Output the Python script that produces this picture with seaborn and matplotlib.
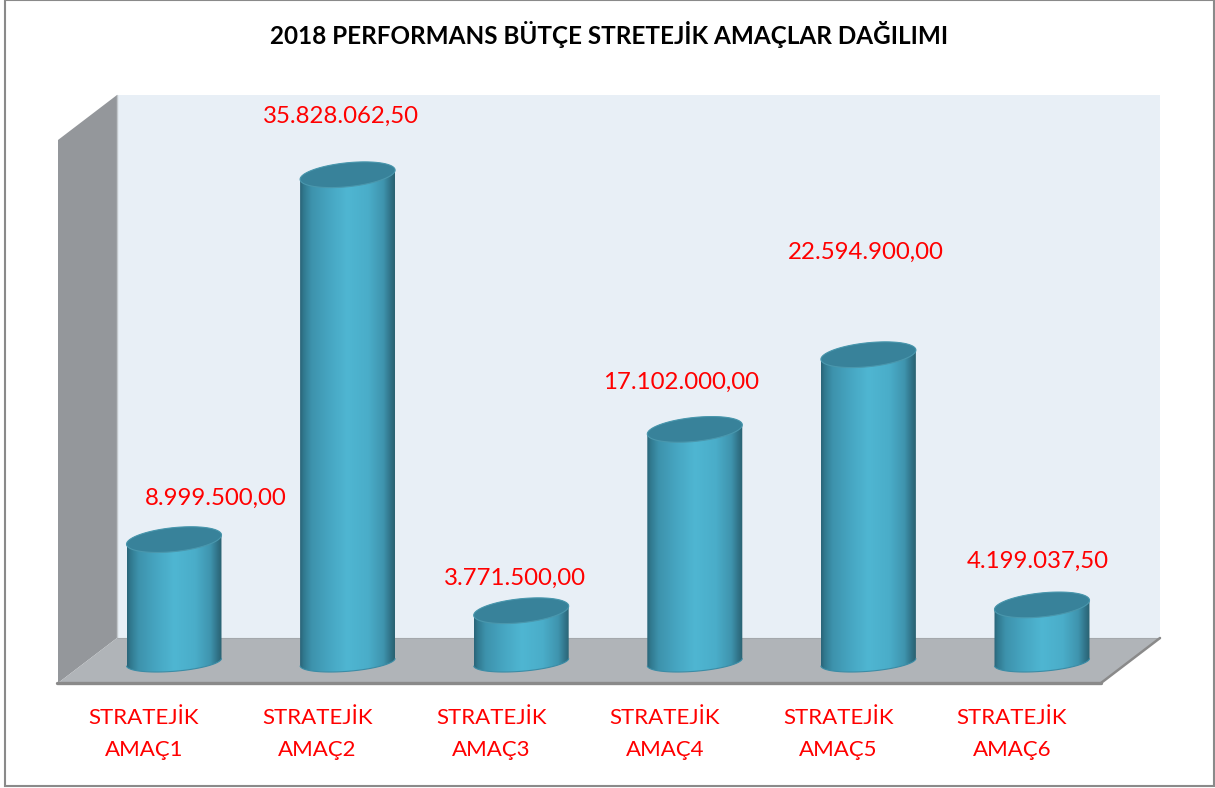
import numpy as np
import pandas as pd
import matplotlib
matplotlib.use("Agg")
import matplotlib.pyplot as plt
import seaborn as sns
from matplotlib.colors import LinearSegmentedColormap
from matplotlib.patches import Polygon, PathPatch, Rectangle
from matplotlib.path import Path
from matplotlib.transforms import ScaledTranslation

# ---- data ----
categories = ["STRATEJİK\nAMAÇ1", "STRATEJİK\nAMAÇ2", "STRATEJİK\nAMAÇ3",
              "STRATEJİK\nAMAÇ4", "STRATEJİK\nAMAÇ5", "STRATEJİK\nAMAÇ6"]
values = [8999500.00, 35828062.50, 3771500.00, 17102000.00, 22594900.00, 4199037.50]
title = "2018 PERFORMANS BÜTÇE STRETEJİK AMAÇLAR DAĞILIMI"

# ---- layout (pixels of a 1215x788 canvas) ----
W, H = 1215, 788
DPI = 100
X0, DX = 174.0, 173.6       # first bar centre, bar spacing
BASE = 662.0                # pixel row of value 0
PX_PER_UNIT = 13.6e-6
BAR_W = 95.0
CAP_B, CAP_S = 12.0, 4.6    # cap ellipse half height, shear
FOOT_B, FOOT_S = 9.3, 3.7   # foot ellipse half height, shear
label_offsets = [(42, 41.5), (-7, 58.5), (-6, 32.5), (-14, 47.5), (-3, 102.5), (-4, 43.5)]

sns.set_theme(style="white")
plt.rcParams["font.family"] = ["Lato", "DejaVu Sans"]

fig = plt.figure(figsize=(W / DPI, H / DPI), dpi=DPI, facecolor="white")
L, R, T, B = 58, 1160, 95, 683
ax = fig.add_axes([L / W, 1 - B / H, (R - L) / W, (B - T) / H])


def figxy(pts):
    return [(x / W, 1 - y / H) for x, y in pts]


def backdrop(pts, color, z=-5):
    fig.add_artist(Polygon(figxy(pts), closed=True, facecolor=color, edgecolor="none",
                           transform=fig.transFigure, zorder=z))


def rule(pts, color, lw):
    fig.add_artist(plt.Line2D(*zip(*figxy(pts)), color=color, lw=lw,
                              transform=fig.transFigure, zorder=-3))


# frame, walls and floor
fig.add_artist(Rectangle((5 / W, 1 - 786 / H), 1208.5 / W, 786.5 / H, fill=False,
                         edgecolor="#8a8a8a", lw=1.5, transform=fig.transFigure, zorder=-6))
backdrop([(117, 95), (1160, 95), (1160, 638), (117, 638)], "#e8eff6")
backdrop([(58, 140), (117, 95), (117, 638), (58, 683)], "#94979b")
backdrop([(58, 683), (117, 638), (1160, 638), (1101, 683)], "#b0b4b8")
rule([(117, 95), (117, 638)], "#c3c8cc", 1.0)
rule([(117, 638), (1160, 638)], "#a4a8ac", 0.8)
rule([(57, 683), (1101, 683)], "#8a8a8a", 2.4)
rule([(1101, 683), (1160, 638)], "#8a8a8a", 1.8)

# bars through seaborn
df = pd.DataFrame({"category": categories, "value": values})
sns.barplot(data=df, x="category", y="value", color="#46a5c1", saturation=1,
            width=BAR_W / DX, ax=ax)
ax.set_xlim((L - X0) / DX, (R - X0) / DX)
ax.set_ylim((BASE - B) / PX_PER_UNIT, (BASE - T) / PX_PER_UNIT)
ax.patch.set_visible(False)
sns.despine(ax=ax, left=True, bottom=True, top=True, right=True)
ax.set_xlabel("")
ax.set_ylabel("")
ax.set_yticks([])
ax.tick_params(axis="x", length=0, pad=18, labelsize=16.0, labelcolor="#ff0000")
for lab in ax.get_xticklabels():
    lab.set_linespacing(1.75)
    lab.set_transform(lab.get_transform() + ScaledTranslation(-30 / DPI, 0, fig.dpi_scale_trans))
ax.set_title(title, fontsize=17.45, fontweight="bold", color="black", pad=(T - 44) * 72 / DPI)

# cylinder shading
shade = LinearSegmentedColormap.from_list("cyl", [
    (0.00, "#2a6478"), (0.04, "#317a90"), (0.12, "#3d92ac"), (0.30, "#46a5c1"),
    (0.50, "#4fb6d2"), (0.72, "#4aadc9"), (0.88, "#3f94ae"), (0.96, "#2f7085"),
    (1.00, "#2a6170")])
grad = np.linspace(0, 1, 256).reshape(1, -1)
a_unit = (BAR_W / 2) / DX
to_y = 1 / PX_PER_UNIT


def rim(cx, v, t, b, s):
    x = cx + a_unit * np.cos(t)
    y = v + (b * np.sin(t) + s * np.cos(t)) * to_y
    return np.column_stack([x, y])


for bar, v, (ox, oy) in zip(ax.patches, values, label_offsets):
    cx = bar.get_x() + bar.get_width() / 2
    # lower rim of the foot, left to right
    foot = rim(cx, 0, np.linspace(np.pi, 2 * np.pi, 80), FOOT_B, FOOT_S)
    # upper rim of the cap, right to left
    cap_upper = rim(cx, v, np.linspace(0, np.pi, 80), CAP_B, CAP_S)
    body_pts = np.vstack([foot, cap_upper, foot[:1]])
    body = PathPatch(Path(body_pts, closed=False), transform=ax.transData,
                     facecolor="none", edgecolor="none")
    ax.add_patch(body)
    im = ax.imshow(grad, cmap=shade, aspect="auto", interpolation="bilinear", zorder=3,
                   extent=(cx - a_unit, cx + a_unit, -30 * to_y, v + 30 * to_y))
    im.set_clip_path(body)
    ax.add_patch(Polygon(foot, closed=False, fill=False, edgecolor="#3a8ca6", lw=0.8, zorder=4))
    ax.add_patch(Polygon(rim(cx, v, np.linspace(0, 2 * np.pi, 160), CAP_B, CAP_S), closed=True,
                         facecolor="#38829a", edgecolor="#4a97ad", lw=0.8, zorder=5))
    bar.set_visible(False)
    text = f"{v:,.2f}".replace(",", "#").replace(".", ",").replace("#", ".")
    ax.annotate(text, (cx, v), xytext=(ox * 72 / DPI, oy * 72 / DPI), textcoords="offset points",
                ha="center", va="center", fontsize=17.3, color="#ff0000", zorder=6,
                annotation_clip=False)

ax.set_xlim((L - X0) / DX, (R - X0) / DX)
ax.set_ylim((BASE - B) / PX_PER_UNIT, (BASE - T) / PX_PER_UNIT)
fig.savefig("out.png", dpi=DPI, facecolor="white")
